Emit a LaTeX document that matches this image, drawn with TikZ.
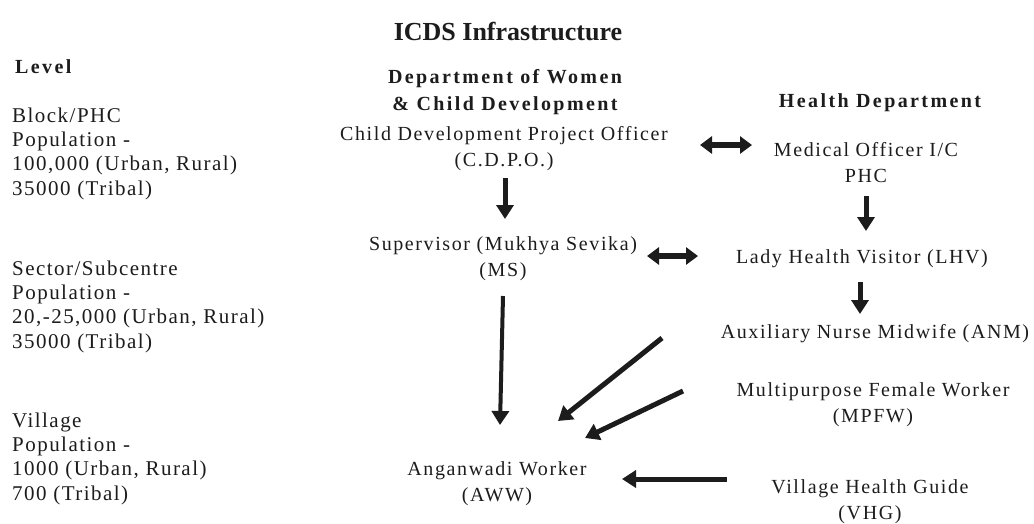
\documentclass[tikz,border=0pt]{standalone}
\usepackage{fontspec}
\setmainfont{Liberation Serif}[LetterSpace=8]
\newfontfamily\leftfont{Liberation Serif}[LetterSpace=7]
\newfontfamily\hdfont{Liberation Serif}[LetterSpace=12]
\newfontfamily\ttlfont{Liberation Serif}
\usetikzlibrary{arrows.meta}
\definecolor{ink}{HTML}{1C1C1C}
\begin{document}
\begin{tikzpicture}[x=1pt,y=-1pt,
  txt/.style={font=\leftfont\fontsize{21}{24.3}\selectfont, text=ink, inner sep=0pt, align=left, anchor=base west},
  ctxt/.style={font=\fontsize{20}{26}\selectfont, text=ink, inner sep=0pt, align=center, anchor=base},
  hd/.style={font=\hdfont\bfseries\fontsize{20}{27}\selectfont, text=ink, inner sep=0pt, align=center, anchor=base},
  arr/.style={draw=ink, line width=5pt, -{Triangle[length=14pt,width=17pt]}},
  darr/.style={draw=ink, line width=6pt, {Triangle[length=12pt,width=17pt]}-{Triangle[length=12pt,width=17pt]}}]
\useasboundingbox[fill=white] (0,0) rectangle (1034,523);

\node[font=\ttlfont\bfseries\fontsize{26}{30}\selectfont, text=ink, inner sep=0pt, anchor=base] (title) at (508,40) {ICDS Infrastructure};

% level column (base anchor = baseline of the last line)
\node[hd, anchor=base west] (lvl) at (15,73) {Level};
\node[txt] (blk) at (12,195) {Block/PHC\\Population -\\100,000 (Urban, Rural)\\35000 (Tribal)};
\node[txt] (sec) at (12,348) {Sector/Subcentre\\Population -\\20,-25,000 (Urban, Rural)\\35000 (Tribal)};
\node[txt] (vil) at (12,500) {Village\\Population -\\1000 (Urban, Rural)\\700 (Tribal)};

% women & child development
\node[hd] (wcd) at (505,110) {Department of Women\\\& Child Development};
\node[ctxt] (cdpo) at (504,166) {Child Development Project Officer\\(C.D.P.O.)};
\node[ctxt] (ms) at (503,276) {Supervisor (Mukhya Sevika)\\(MS)};
\node[ctxt] (aww) at (497,501) {Anganwadi Worker\\(AWW)};

% health department
\node[hd] (hdep) at (880,107) {Health Department};
\node[ctxt] (mo) at (866,182) {Medical Officer I/C\\PHC};
\node[ctxt] (lhv) at (862,263) {Lady Health Visitor (LHV)};
\node[ctxt] (anm) at (875,338) {Auxiliary Nurse Midwife (ANM)};
\node[ctxt] (mpfw) at (873,422) {Multipurpose Female Worker\\(MPFW)};
\node[ctxt] (vhg) at (870,519) {Village Health Guide\\(VHG)};

% connectors
\draw[arr] ([shift={(1,12)}]cdpo.base) -- ([shift={(2,-57)}]ms.base);
\draw[arr] ([shift={(0,14)}]mo.base) -- ([shift={(4,-32)}]lhv.base);
\draw[arr] ([shift={(-2,19)}]lhv.base) -- ([shift={(-15,-24)}]anm.base);
\draw[arr, line width=4pt] ([shift={(0,20)}]ms.base) -- ([shift={(3,-76)}]aww.base);
\draw[arr] ([shift={(-213,0)}]anm.base) -- ([shift={(61,-80)}]aww.base);
\draw[arr] ([shift={(-190,-31)}]mpfw.base) -- ([shift={(88,-63)}]aww.base);
\draw[arr] ([shift={(-143,-40)}]vhg.base) -- ([shift={(125,-22)}]aww.base);
\draw[darr] ([shift={(196,-21)}]cdpo.base) -- ([shift={(-114,-37)}]mo.base);
\draw[darr] ([shift={(144,-20)}]ms.base) -- ([shift={(-164,-7)}]lhv.base);
\end{tikzpicture}
\end{document}
